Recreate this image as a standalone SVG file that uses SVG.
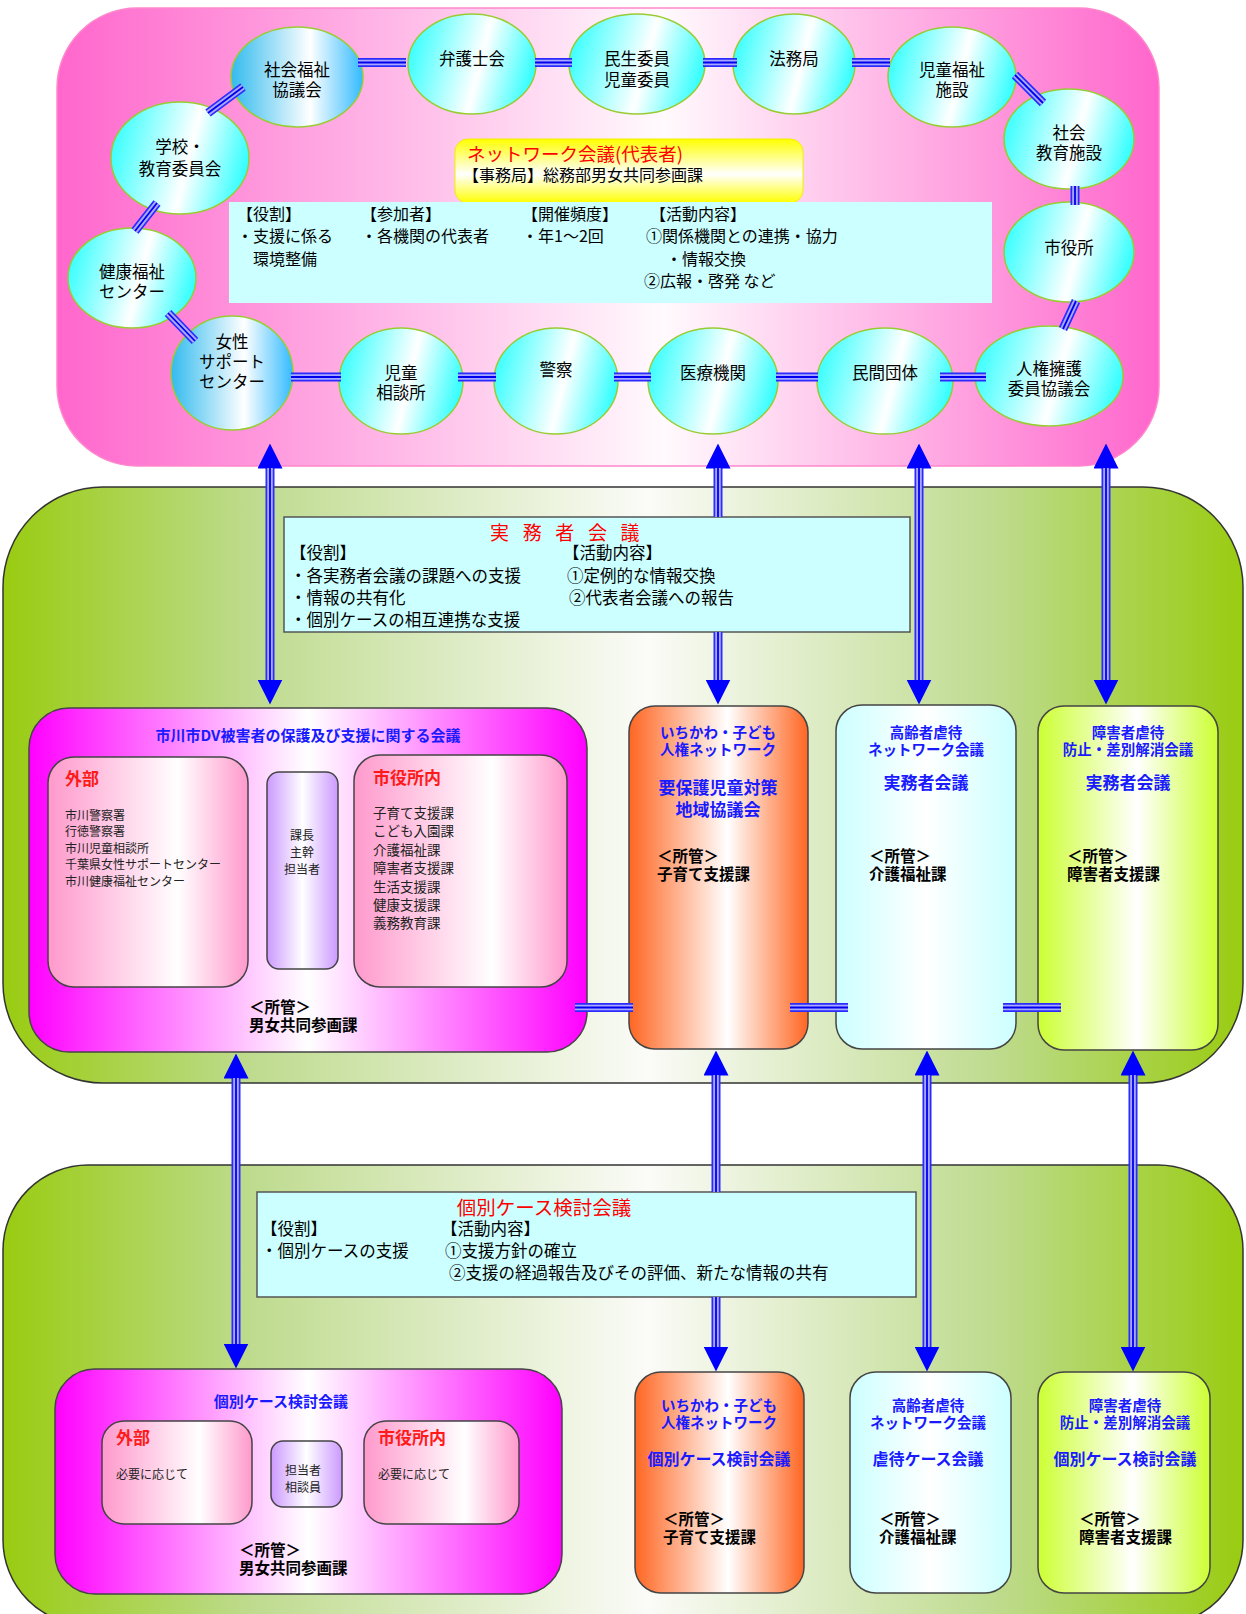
<svg xmlns="http://www.w3.org/2000/svg" xmlns:xlink="http://www.w3.org/1999/xlink" width="1246" height="1614" viewBox="0 0 1246 1614">
  <style>
    text { font-family: "Noto Sans CJK JP", "Noto Sans CJK SC", "DejaVu Sans", sans-serif; dominant-baseline: central; fill: #000; }
    .mid { text-anchor: middle; }
    .org { font-size: 16.5px; }
    .info { font-size: 16px; }
    .info2 { font-size: 16.5px; }
    .red { fill: #ff0000; }
    .blue { fill: #1a1aff; font-weight: bold; }
    .lbl { font-size: 17px; fill: #ff1a1a; font-weight: bold; }
    .sm { font-size: 12px; fill: #222; }
    .sm2 { font-size: 13.5px; fill: #222; }
    .own { font-size: 15.5px; font-weight: bold; }
    .ring { stroke: #99cc33; stroke-width: 1.5; }
    .box { stroke: #444; stroke-width: 1.5; }
    .lk0 { fill: none; stroke: #2b2bff; stroke-width: 9; }
    .lk1 { fill: none; stroke: #a8a8ff; stroke-width: 5.6; }
    .lk2 { fill: none; stroke: #0000ee; stroke-width: 1.8; }
    .heads { marker-start: url(#head); marker-end: url(#head); }
  </style>
  <defs>
    <linearGradient id="gPinkPanel" x1="0" y1="0" x2="1" y2="0">
      <stop offset="0" stop-color="#ff66cc"/>
      <stop offset="0.55" stop-color="#fffafd"/>
      <stop offset="1" stop-color="#ff66cc"/>
    </linearGradient>
    <linearGradient id="gGreen" x1="0" y1="0" x2="1" y2="0">
      <stop offset="0" stop-color="#99cc11"/>
      <stop offset="0.2" stop-color="#bedb8e"/>
      <stop offset="0.52" stop-color="#fbfbf8"/>
      <stop offset="0.8" stop-color="#bedb8e"/>
      <stop offset="1" stop-color="#99cc11"/>
    </linearGradient>
    <linearGradient id="gCyan" x1="0" y1="0.3" x2="1" y2="0.5">
      <stop offset="0" stop-color="#33ffff"/>
      <stop offset="0.58" stop-color="#ffffff"/>
      <stop offset="1" stop-color="#33ffff"/>
    </linearGradient>
    <linearGradient id="gBlue" x1="0" y1="0" x2="1" y2="0">
      <stop offset="0" stop-color="#33bbee"/>
      <stop offset="0.6" stop-color="#ffffff"/>
      <stop offset="1" stop-color="#33bbff"/>
    </linearGradient>
    <linearGradient id="gYellow" x1="0" y1="0" x2="0" y2="1">
      <stop offset="0" stop-color="#ffff00"/>
      <stop offset="0.55" stop-color="#ffffff"/>
      <stop offset="1" stop-color="#ffff00"/>
    </linearGradient>
    <linearGradient id="gMagenta" x1="0" y1="0" x2="1" y2="0">
      <stop offset="0" stop-color="#ff00ff"/>
      <stop offset="0.5" stop-color="#ffffff"/>
      <stop offset="1" stop-color="#ff00ff"/>
    </linearGradient>
    <linearGradient id="gRose" x1="0" y1="0" x2="1" y2="0">
      <stop offset="0" stop-color="#ff99cc"/>
      <stop offset="0.65" stop-color="#ffffff"/>
      <stop offset="1" stop-color="#ff99cc"/>
    </linearGradient>
    <linearGradient id="gViolet" x1="0" y1="0" x2="1" y2="0">
      <stop offset="0" stop-color="#cc99ff"/>
      <stop offset="0.5" stop-color="#ffffff"/>
      <stop offset="1" stop-color="#cc99ff"/>
    </linearGradient>
    <linearGradient id="gOrange" x1="0" y1="0" x2="1" y2="0">
      <stop offset="0" stop-color="#ff6622"/>
      <stop offset="0.55" stop-color="#ffffff"/>
      <stop offset="1" stop-color="#ff6622"/>
    </linearGradient>
    <linearGradient id="gIce" x1="0" y1="0" x2="1" y2="0">
      <stop offset="0" stop-color="#ccffff"/>
      <stop offset="0.5" stop-color="#ffffff"/>
      <stop offset="1" stop-color="#ccffff"/>
    </linearGradient>
    <linearGradient id="gLime" x1="0" y1="0" x2="1" y2="0">
      <stop offset="0" stop-color="#ccff33"/>
      <stop offset="0.55" stop-color="#ffffff"/>
      <stop offset="1" stop-color="#ccff33"/>
    </linearGradient>
    <marker id="head" viewBox="0 0 25 25" refX="0.5" refY="12.5" markerWidth="25" markerHeight="25" markerUnits="userSpaceOnUse" orient="auto-start-reverse">
      <path d="M0,0 L25,12.5 L0,25 Z" fill="#0000ff"/>
    </marker>
    <!-- triple-line links: ring of organisations and side links between meetings -->
    <path id="linkGeom" d="M358,62.5 H406 M535,62.5 H572 M703,62.5 H737 M852,62.5 H890
      M1015,75 L1043,103 M1075,186 V205 M1076,301 L1063,329
      M940,377 H986 M776,377 H818 M614,377 H651 M458,377 H496 M291,377 H341
      M168,313 L195,341 M135,231 L157,203 M208,113 L243,87
      M575,1007.5 H633 M790,1007.5 H848 M1003,1007.5 H1061"/>
    <!-- double-headed vertical arrows between the three levels -->
    <g id="arrowGeom">
      <path d="M270,468 V680"/>
      <path d="M718,468 V517" marker-end="none"/>
      <path d="M718,632 V680" marker-start="none"/>
      <path d="M919,468 V680"/>
      <path d="M1106,468 V680"/>
      <path d="M236,1078 V1344"/>
      <path d="M716,1075 V1192" marker-end="none"/>
      <path d="M716,1297 V1347" marker-start="none"/>
      <path d="M927,1075 V1347"/>
      <path d="M1133,1075 V1347"/>
    </g>
  </defs>

  <!-- level backgrounds -->
  <rect id="panel-network" x="57" y="8" width="1102" height="458" rx="80" fill="url(#gPinkPanel)" stroke="#ff88cc" stroke-width="1.5"/>
  <rect id="panel-practitioners" x="3" y="487" width="1240" height="596" rx="100" fill="url(#gGreen)" stroke="#333" stroke-width="1.5"/>
  <rect id="panel-cases" x="3" y="1165" width="1240" height="460" rx="85" fill="url(#gGreen)" stroke="#333" stroke-width="1.5"/>

  <!-- representative network meeting -->
  <g id="network-title">
    <rect x="455" y="139" width="348" height="64" rx="13" fill="url(#gYellow)" stroke="#f0f000" stroke-width="1"/>
    <text x="467" y="153" font-size="18.5" class="red">ネットワーク会議(代表者)</text>
    <text x="463" y="174" font-size="16">【事務局】総務部男女共同参画課</text>
  </g>
  <g id="network-info">
    <rect x="229" y="202" width="763" height="101" fill="#ccffff"/>
    <text class="info" x="237" y="213">【役割】</text>
    <text class="info" x="237" y="235">・支援に係る</text>
    <text class="info" x="237" y="258">　環境整備</text>
    <text class="info" x="361" y="213">【参加者】</text>
    <text class="info" x="361" y="235">・各機関の代表者</text>
    <text class="info" x="522" y="213">【開催頻度】</text>
    <text class="info" x="522" y="235">・年1～2回</text>
    <text class="info" x="650" y="213">【活動内容】</text>
    <text class="info" x="646" y="235">①関係機関との連携・協力</text>
    <text class="info" x="666" y="258">・情報交換</text>
    <text class="info" x="644" y="280">②広報・啓発 など</text>
  </g>

  <!-- member organisations -->
  <g id="n-shakyo"><ellipse cx="297" cy="77" rx="66" ry="50" fill="url(#gBlue)" class="ring"/>
    <text class="org mid" x="297" y="69">社会福祉</text><text class="org mid" x="297" y="89">協議会</text></g>
  <g id="n-bengoshi"><ellipse cx="472" cy="64" rx="64" ry="50" fill="url(#gCyan)" class="ring"/>
    <text class="org mid" x="472" y="58">弁護士会</text></g>
  <g id="n-minsei"><ellipse cx="637" cy="64" rx="68" ry="50" fill="url(#gCyan)" class="ring"/>
    <text class="org mid" x="637" y="58">民生委員</text><text class="org mid" x="637" y="79">児童委員</text></g>
  <g id="n-homukyoku"><ellipse cx="794" cy="64" rx="61" ry="50" fill="url(#gCyan)" class="ring"/>
    <text class="org mid" x="794" y="58">法務局</text></g>
  <g id="n-jidofukushi"><ellipse cx="952" cy="77" rx="64" ry="50" fill="url(#gCyan)" class="ring"/>
    <text class="org mid" x="952" y="69">児童福祉</text><text class="org mid" x="952" y="89">施設</text></g>
  <g id="n-shakaikyoiku"><ellipse cx="1069" cy="139" rx="65" ry="50" fill="url(#gCyan)" class="ring"/>
    <text class="org mid" x="1069" y="132">社会</text><text class="org mid" x="1069" y="152">教育施設</text></g>
  <g id="n-shiyakusho"><ellipse cx="1069" cy="252" rx="65" ry="50" fill="url(#gCyan)" class="ring"/>
    <text class="org mid" x="1069" y="247">市役所</text></g>
  <g id="n-jinken"><ellipse cx="1049" cy="376" rx="74" ry="50" fill="url(#gCyan)" class="ring"/>
    <text class="org mid" x="1049" y="368">人権擁護</text><text class="org mid" x="1049" y="388">委員協議会</text></g>
  <g id="n-minkan"><ellipse cx="885" cy="381" rx="68" ry="53" fill="url(#gCyan)" class="ring"/>
    <text class="org mid" x="885" y="372">民間団体</text></g>
  <g id="n-iryo"><ellipse cx="713" cy="381" rx="65" ry="53" fill="url(#gCyan)" class="ring"/>
    <text class="org mid" x="713" y="372">医療機関</text></g>
  <g id="n-keisatsu"><ellipse cx="556" cy="381" rx="62" ry="53" fill="url(#gCyan)" class="ring"/>
    <text class="org mid" x="556" y="369">警察</text></g>
  <g id="n-jidosodan"><ellipse cx="401" cy="381" rx="62" ry="53" fill="url(#gCyan)" class="ring"/>
    <text class="org mid" x="401" y="372">児童</text><text class="org mid" x="401" y="392">相談所</text></g>
  <g id="n-josei"><ellipse cx="232" cy="373" rx="61" ry="57" fill="url(#gBlue)" class="ring"/>
    <text class="org mid" x="232" y="341">女性</text><text class="org mid" x="232" y="361">サポート</text><text class="org mid" x="232" y="381">センター</text></g>
  <g id="n-kenko"><ellipse cx="132" cy="278" rx="64" ry="50" fill="url(#gCyan)" class="ring"/>
    <text class="org mid" x="132" y="271">健康福祉</text><text class="org mid" x="132" y="291">センター</text></g>
  <g id="n-gakko"><ellipse cx="180" cy="158" rx="69" ry="56" fill="url(#gCyan)" class="ring"/>
    <text class="org mid" x="180" y="146">学校・</text><text class="org mid" x="180" y="168" font-size="16">教育委員会</text></g>

  <!-- practitioners meeting -->
  <g id="practitioners-info">
    <rect x="284" y="517" width="626" height="115" fill="#ccffff" stroke="#555" stroke-width="1.5"/>
    <text x="490" y="531" font-size="19" class="red" letter-spacing="4.7" xml:space="preserve">実 務 者 会 議</text>
    <text class="info2" x="290" y="552">【役割】</text>
    <text class="info2" x="290" y="575">・各実務者会議の課題への支援</text>
    <text class="info2" x="290" y="597">・情報の共有化</text>
    <text class="info2" x="290" y="619">・個別ケースの相互連携な支援</text>
    <text class="info2" x="563" y="552">【活動内容】</text>
    <text class="info2" x="567" y="575">①定例的な情報交換</text>
    <text class="info2" x="569" y="597">②代表者会議への報告</text>
  </g>

  <g id="dv-meeting">
    <rect x="29" y="708" width="558" height="344" rx="40" fill="url(#gMagenta)" class="box"/>
    <text class="blue mid" x="308" y="734" font-size="15">市川市DV被害者の保護及び支援に関する会議</text>
    <rect x="48" y="757" width="200" height="230" rx="26" fill="url(#gRose)" class="box"/>
    <text class="lbl" x="65" y="777">外部</text>
    <text class="sm" x="65" y="814">市川警察署</text>
    <text class="sm" x="65" y="830">行徳警察署</text>
    <text class="sm" x="65" y="847">市川児童相談所</text>
    <text class="sm" x="65" y="863">千葉県女性サポートセンター</text>
    <text class="sm" x="65" y="880">市川健康福祉センター</text>
    <rect x="267" y="772" width="71" height="197" rx="12" fill="url(#gViolet)" class="box"/>
    <text class="sm mid" x="302" y="834" font-size="13">課長</text>
    <text class="sm mid" x="302" y="851" font-size="13">主幹</text>
    <text class="sm mid" x="302" y="868" font-size="13">担当者</text>
    <rect x="354" y="755" width="213" height="232" rx="26" fill="url(#gRose)" class="box"/>
    <text class="lbl" x="373" y="776">市役所内</text>
    <text class="sm2" x="373" y="812">子育て支援課</text>
    <text class="sm2" x="373" y="830">こども入園課</text>
    <text class="sm2" x="373" y="849">介護福祉課</text>
    <text class="sm2" x="373" y="867">障害者支援課</text>
    <text class="sm2" x="373" y="886">生活支援課</text>
    <text class="sm2" x="373" y="904">健康支援課</text>
    <text class="sm2" x="373" y="922">義務教育課</text>
    <text class="own" x="249" y="1006">＜所管＞</text>
    <text class="own" x="249" y="1024">男女共同参画課</text>
  </g>

  <g id="child-network">
    <rect x="629" y="706" width="179" height="343" rx="26" fill="url(#gOrange)" class="box"/>
    <text class="blue mid" x="718" y="731" font-size="14.5">いちかわ・子ども</text>
    <text class="blue mid" x="718" y="748" font-size="14.5">人権ネットワーク</text>
    <text class="blue mid" x="718" y="786" font-size="17">要保護児童対策</text>
    <text class="blue mid" x="718" y="808" font-size="17">地域協議会</text>
    <text class="own" x="657" y="855">＜所管＞</text>
    <text class="own" x="657" y="873">子育て支援課</text>
  </g>

  <g id="elder-network">
    <rect x="836" y="705" width="180" height="344" rx="26" fill="url(#gIce)" class="box"/>
    <text class="blue mid" x="926" y="731" font-size="14.5">高齢者虐待</text>
    <text class="blue mid" x="926" y="748" font-size="14.5">ネットワーク会議</text>
    <text class="blue mid" x="926" y="781" font-size="17">実務者会議</text>
    <text class="own" x="869" y="855">＜所管＞</text>
    <text class="own" x="869" y="873">介護福祉課</text>
  </g>

  <g id="disability-network">
    <rect x="1038" y="706" width="180" height="344" rx="26" fill="url(#gLime)" class="box"/>
    <text class="blue mid" x="1128" y="731" font-size="14.5">障害者虐待</text>
    <text class="blue mid" x="1128" y="748" font-size="14.5">防止・差別解消会議</text>
    <text class="blue mid" x="1128" y="781" font-size="17">実務者会議</text>
    <text class="own" x="1067" y="855">＜所管＞</text>
    <text class="own" x="1067" y="873">障害者支援課</text>
  </g>

  <!-- individual case meetings -->
  <g id="cases-info">
    <rect x="257" y="1192" width="659" height="105" fill="#ccffff" stroke="#555" stroke-width="1.5"/>
    <text x="544" y="1206" font-size="19.5" class="red mid">個別ケース検討会議</text>
    <text class="info2" x="261" y="1228">【役割】</text>
    <text class="info2" x="261" y="1250">・個別ケースの支援</text>
    <text class="info2" x="441" y="1228">【活動内容】</text>
    <text class="info2" x="445" y="1250">①支援方針の確立</text>
    <text class="info2" x="449" y="1272">②支援の経過報告及びその評価、新たな情報の共有</text>
  </g>

  <g id="dv-cases">
    <rect x="55" y="1369" width="507" height="225" rx="40" fill="url(#gMagenta)" class="box"/>
    <text class="blue mid" x="281" y="1400" font-size="15">個別ケース検討会議</text>
    <rect x="102" y="1421" width="150" height="103" rx="22" fill="url(#gRose)" class="box"/>
    <text class="lbl" x="116" y="1436">外部</text>
    <text class="sm" x="116" y="1473" font-size="12.5">必要に応じて</text>
    <rect x="271" y="1441" width="71" height="66" rx="12" fill="url(#gViolet)" class="box"/>
    <text class="sm mid" x="303" y="1469" font-size="13">担当者</text>
    <text class="sm mid" x="303" y="1486" font-size="13">相談員</text>
    <rect x="364" y="1421" width="155" height="103" rx="22" fill="url(#gRose)" class="box"/>
    <text class="lbl" x="378" y="1436">市役所内</text>
    <text class="sm" x="378" y="1473" font-size="12.5">必要に応じて</text>
    <text class="own" x="239" y="1549">＜所管＞</text>
    <text class="own" x="239" y="1567">男女共同参画課</text>
  </g>

  <g id="child-cases">
    <rect x="635" y="1372" width="169" height="221" rx="26" fill="url(#gOrange)" class="box"/>
    <text class="blue mid" x="719" y="1404" font-size="14.5">いちかわ・子ども</text>
    <text class="blue mid" x="719" y="1421" font-size="14.5">人権ネットワーク</text>
    <text class="blue mid" x="719" y="1458" font-size="16">個別ケース検討会議</text>
    <text class="own" x="663" y="1518">＜所管＞</text>
    <text class="own" x="663" y="1536">子育て支援課</text>
  </g>

  <g id="elder-cases">
    <rect x="850" y="1372" width="161" height="221" rx="26" fill="url(#gIce)" class="box"/>
    <text class="blue mid" x="928" y="1404" font-size="14.5">高齢者虐待</text>
    <text class="blue mid" x="928" y="1421" font-size="14.5">ネットワーク会議</text>
    <text class="blue mid" x="928" y="1458" font-size="16">虐待ケース会議</text>
    <text class="own" x="879" y="1518">＜所管＞</text>
    <text class="own" x="879" y="1536">介護福祉課</text>
  </g>

  <g id="disability-cases">
    <rect x="1038" y="1372" width="172" height="221" rx="26" fill="url(#gLime)" class="box"/>
    <text class="blue mid" x="1125" y="1404" font-size="14.5">障害者虐待</text>
    <text class="blue mid" x="1125" y="1421" font-size="14.5">防止・差別解消会議</text>
    <text class="blue mid" x="1125" y="1458" font-size="16">個別ケース検討会議</text>
    <text class="own" x="1079" y="1518">＜所管＞</text>
    <text class="own" x="1079" y="1536">障害者支援課</text>
  </g>

  <!-- connectors: links drawn as three stacked strokes, arrows carry heads on the outer stroke -->
  <g id="connectors">
    <use xlink:href="#linkGeom" class="lk0"/>
    <use xlink:href="#linkGeom" class="lk1"/>
    <use xlink:href="#linkGeom" class="lk2"/>
    <use xlink:href="#arrowGeom" class="lk0 heads"/>
    <use xlink:href="#arrowGeom" class="lk1"/>
    <use xlink:href="#arrowGeom" class="lk2"/>
  </g>
</svg>
